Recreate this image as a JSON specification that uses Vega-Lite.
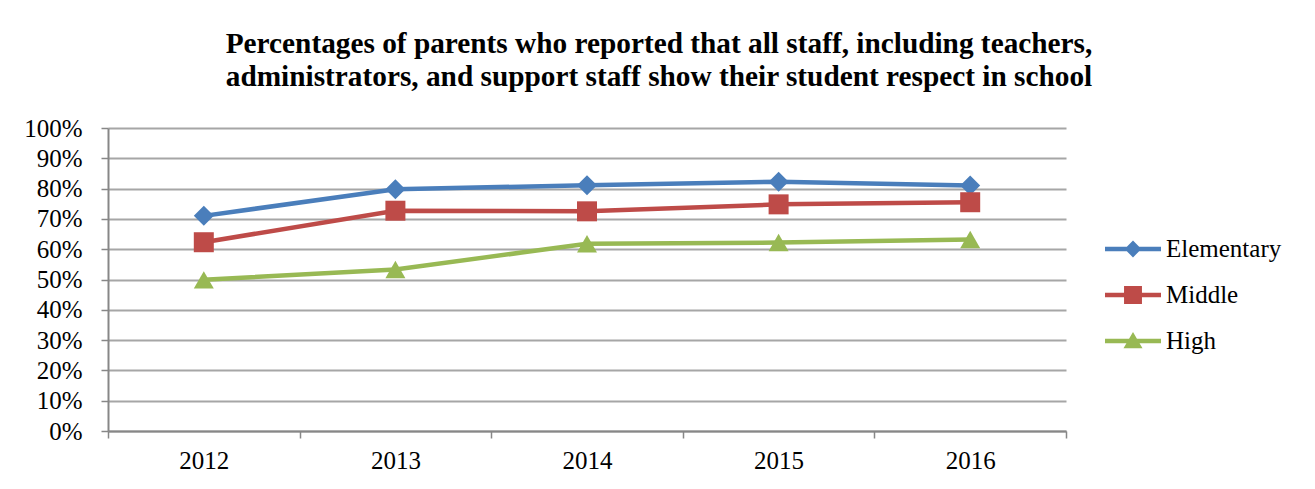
{
  "$schema": "https://vega.github.io/schema/vega-lite/v6.json",
  "width": 958,
  "height": 303,
  "autosize": {"type": "none"},
  "padding": {"left": 108, "top": 128, "right": 249, "bottom": 58},
  "background": "white",
  "title": {
    "text": ["Percentages of parents who reported that all staff, including teachers,", "administrators, and support staff show their student respect in school"],
    "font": "Liberation Serif",
    "fontSize": 29.3,
    "fontWeight": "bold",
    "color": "black",
    "anchor": "middle",
    "dx": 72,
    "lineHeight": 33,
    "offset": 24
  },
  "config": {
    "view": {"stroke": null},
    "font": "Liberation Serif"
  },
  "data": {
    "values": [
      {"year": "2012", "level": "Elementary", "value": 0.710},
      {"year": "2013", "level": "Elementary", "value": 0.798},
      {"year": "2014", "level": "Elementary", "value": 0.811},
      {"year": "2015", "level": "Elementary", "value": 0.823},
      {"year": "2016", "level": "Elementary", "value": 0.810},
      {"year": "2012", "level": "Middle", "value": 0.623},
      {"year": "2013", "level": "Middle", "value": 0.727},
      {"year": "2014", "level": "Middle", "value": 0.725},
      {"year": "2015", "level": "Middle", "value": 0.748},
      {"year": "2016", "level": "Middle", "value": 0.755},
      {"year": "2012", "level": "High", "value": 0.499},
      {"year": "2013", "level": "High", "value": 0.533},
      {"year": "2014", "level": "High", "value": 0.618},
      {"year": "2015", "level": "High", "value": 0.622},
      {"year": "2016", "level": "High", "value": 0.632}
    ]
  },
  "encoding": {
    "x": {
      "field": "year",
      "type": "nominal",
      "scale": {"type": "band", "paddingInner": 0, "paddingOuter": 0},
      "axis": {
        "title": null,
        "labelAngle": 0,
        "labelFont": "Liberation Serif",
        "labelFontSize": 25,
        "labelColor": "black",
        "labelPadding": 10,
        "tickBand": "extent",
        "tickSize": 7,
        "tickColor": "#878787",
        "tickWidth": 1.5,
        "domainColor": "#878787",
        "domainWidth": 2,
        "grid": false
      }
    },
    "y": {
      "field": "value",
      "type": "quantitative",
      "scale": {"domain": [0, 1], "nice": false},
      "axis": {
        "title": null,
        "format": ".0%",
        "values": [0, 0.1, 0.2, 0.3, 0.4, 0.5, 0.6, 0.7, 0.8, 0.9, 1],
        "labelFont": "Liberation Serif",
        "labelFontSize": 25,
        "labelColor": "black",
        "labelPadding": 19,
        "tickSize": 7,
        "tickColor": "#878787",
        "tickWidth": 1.5,
        "domainColor": "#878787",
        "domainWidth": 2,
        "grid": true,
        "gridColor": "#a6a6a6",
        "gridWidth": 2
      }
    }
  },
  "layer": [
    {
      "mark": {"type": "line", "strokeWidth": 4.5},
      "encoding": {
        "color": {
          "field": "level",
          "type": "nominal",
          "scale": {"domain": ["Elementary", "Middle", "High"], "range": ["#4a7ebb", "#be4b48", "#98b954"]},
          "legend": null
        }
      }
    },
    {
      "mark": {"type": "point", "filled": true, "size": 400, "opacity": 1},
      "encoding": {
        "shape": {
          "field": "level",
          "type": "nominal",
          "scale": {"domain": ["Elementary", "Middle", "High"], "range": ["diamond", "square", "triangle-up"]},
          "legend": null
        },
        "color": {
          "field": "level",
          "type": "nominal",
          "scale": {"domain": ["Elementary", "Middle", "High"], "range": ["#4a7ebb", "#be4b48", "#98b954"]},
          "legend": null
        }
      }
    },
    {
      "transform": [{"filter": "datum.value > 1"}],
      "mark": {"type": "point", "filled": true, "opacity": 1, "strokeWidth": 0},
      "encoding": {
        "shape": {
          "field": "level",
          "type": "nominal",
          "scale": {
            "domain": ["Elementary", "Middle", "High"],
            "range": [
              "M-1,-0.08H-0.22L0,-0.3L0.22,-0.08H1V0.08H0.22L0,0.3L-0.22,0.08H-1Z",
              "M-1,-0.08H-0.32V-0.32H0.32V-0.08H1V0.08H0.32V0.32H-0.32V0.08H-1Z",
              "M-1,-0.08H-0.141L0,-0.32L0.141,-0.08H1V0.08H0.234L0.34,0.26H-0.34L-0.234,0.08H-1Z"
            ]
          },
          "legend": {
            "title": null,
            "orient": "none",
            "legendX": 997,
            "legendY": 93,
            "symbolSize": 3136,
            "symbolStrokeWidth": 0,
            "symbolOpacity": 1,
            "labelFont": "Liberation Serif",
            "labelFontSize": 25,
            "labelColor": "black",
            "labelOffset": 5,
            "rowPadding": 5
          }
        },
        "color": {
          "field": "level",
          "type": "nominal",
          "scale": {"domain": ["Elementary", "Middle", "High"], "range": ["#4a7ebb", "#be4b48", "#98b954"]},
          "legend": {
            "title": null,
            "orient": "none",
            "legendX": 997,
            "legendY": 93,
            "symbolSize": 3136,
            "symbolStrokeWidth": 0,
            "symbolOpacity": 1,
            "labelFont": "Liberation Serif",
            "labelFontSize": 25,
            "labelColor": "black",
            "labelOffset": 5,
            "rowPadding": 5
          }
        }
      }
    }
  ],
  "resolve": {"scale": {"shape": "independent"}, "legend": {"color": "independent", "shape": "independent"}}
}
